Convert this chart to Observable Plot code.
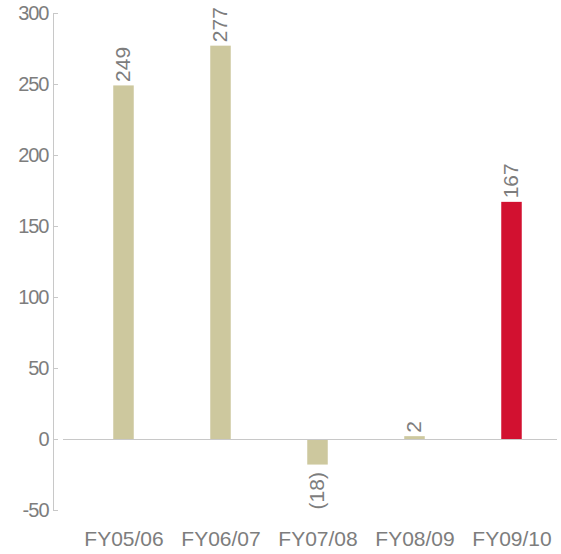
<!DOCTYPE html>
<html>
<head>
<meta charset="utf-8">
<script src="https://cdn.jsdelivr.net/npm/d3@7"></script>
<script src="https://cdn.jsdelivr.net/npm/@observablehq/plot@0.6"></script>
<style>
  html, body { margin: 0; padding: 0; background: #fff; }
  svg { display: block; }
  g[aria-label="y-axis tick label"] text { letter-spacing: -1px; }
</style>
</head>
<body>
<div id="chart"></div>
<script>
const years = ["FY05/06", "FY06/07", "FY07/08", "FY08/09", "FY09/10"];
const values = [249, 277, -18, 2, 167];
const highlightYear = "FY09/10";
const yTicks = [-50, 0, 50, 100, 150, 200, 250, 300];

const data = years.map((year, i) => ({year, value: values[i]}));
const fmt = v => v < 0 ? `(${Math.abs(v)})` : String(v);

const W = 561, H = 554, ML = 53, MR = 0, MT = 13, MB = 44;
const grey = "#7d7d7d";
const lineGrey = "#c8c8c8";

const chart = Plot.plot({
  width: W,
  height: H,
  marginLeft: ML,
  marginRight: MR,
  marginTop: MT,
  marginBottom: MB,
  style: {fontFamily: "'Liberation Sans', Arial, sans-serif", color: grey, background: "#fff"},
  x: {domain: years, range: [73.75, 561.25], padding: 0, label: null},
  y: {domain: [-50, 300], label: null},
  marks: [
    Plot.frame({anchor: "left", stroke: lineGrey}),
    Plot.ruleY(yTicks, {stroke: lineGrey, insetRight: W - ML - MR - 5}),
    Plot.axisY({ticks: yTicks, tickFormat: d => String(d), tickSize: 0, tickPadding: 5, fontSize: 20, fill: grey, label: null}),
    Plot.axisX({tickSize: 0, tickPadding: 21, fontSize: 21, fill: grey, label: null, lineAnchor: "top"}),
    Plot.barY(data, {
      x: "year", y: "value",
      fill: d => d.year === highlightYear ? "#d21130" : "#cdc89e",
      insetLeft: 38.25, insetRight: 38.25
    }),
    Plot.ruleY([0], {stroke: lineGrey, insetLeft: 10, insetRight: 4}),
    Plot.text(data.filter(d => d.value >= 0), {
      x: "year", y: "value", text: d => fmt(d.value),
      rotate: -90, textAnchor: "start", lineAnchor: "middle",
      dy: -4, dx: -1, fontSize: 21, fill: grey
    }),
    Plot.text(data.filter(d => d.value < 0), {
      x: "year", y: "value", text: d => fmt(d.value),
      rotate: -90, textAnchor: "end", lineAnchor: "middle",
      dy: 7, dx: -1, fontSize: 21, fill: grey
    })
  ]
});
document.getElementById("chart").appendChild(chart);
</script>
</body>
</html>
